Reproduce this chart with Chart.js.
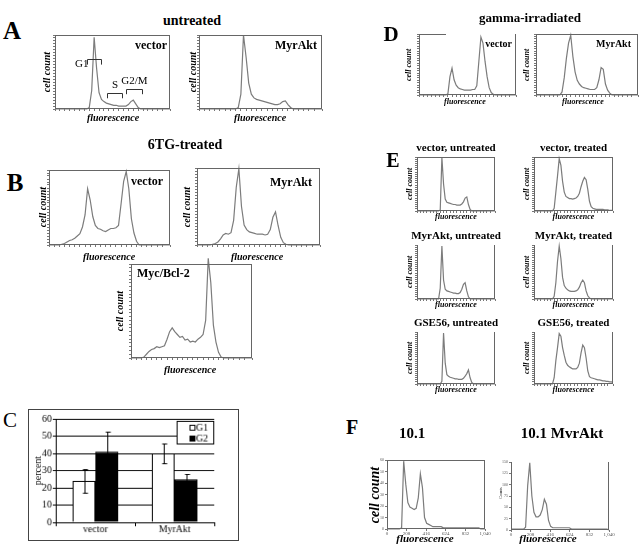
<!DOCTYPE html>
<html>
<head>
<meta charset="utf-8">
<script src="https://cdn.jsdelivr.net/npm/chart.js@4.4.1/dist/chart.umd.min.js"></script>
<style>
  body { margin: 0; background: #fff; }
  #page { position: relative; width: 644px; height: 547px; overflow: hidden;
          font-family: "Liberation Serif", "Times New Roman", serif; color: #000; }
  #page canvas { position: absolute; }
  .t { position: absolute; white-space: nowrap; line-height: 1; font-weight: bold; }
</style>
</head>
<body>
<div id="page"></div>
<script>
// histogram counts, 48 fluorescence bins, in % of panel height
const aVector   = [0,0,0,0,0,0,0,0,0,0, 0,0,0,0,2,25,97,55,22,13, 10,8,7,6,5,5,4,4,4,4, 6,10,12,7,2,0,0,0,0,0, 0,0,0,0,0,0,0,0];
const aMyrAkt   = [0,0,0,0,0,0,0,0,0,0, 0,0,0,0,0,2,20,100,70,35, 20,15,13,12,11,10,9,8,7,6, 6,7,10,11,6,2,0,0,0,0, 0,0,0,0,0,0,0,0];
const bVector   = [0,0,0,0,0,1,2,4,6,7, 9,12,15,24,40,75,60,38,26,22, 21,19,18,20,22,22,23,26,55,85, 98,75,35,16,5,0,0,0,0,0, 0,0,0,0,0,0,0,0];
const bMyrAkt   = [0,0,0,0,0,0,1,2,4,8, 13,15,14,16,32,75,99,50,26,20, 17,16,15,14,14,14,13,14,20,36, 43,25,10,3,1,0,0,0,0,0, 0,0,0,0,0,0,0,0];
const bMycBcl2  = [0,0,0,0,0,1,4,7,9,10, 12,11,12,13,20,28,32,28,25,22, 23,19,20,17,18,17,20,22,25,40, 106,80,35,17,6,1,0,0,0,0, 0,0,0,0,0,0,0,0];
const dVector   = [0,0,0,0,0,0,0,0,0,0, 0,0,0,0,2,30,44,25,16,12, 10,9,8,8,8,8,9,9,15,55, 95,85,55,30,12,4,1,0,0,0, 0,0,0,0,0,0,0,0];
const dMyrAkt   = [0,0,0,0,0,0,0,0,0,0, 0,0,5,28,60,85,98,63,38,24, 18,14,12,11,10,9,9,9,12,25, 45,42,18,8,3,0,0,0,0,0, 0,0,0,0,0,0,0,0];
const eVecUntr  = [0,0,0,0,0,0,0,0,0,0, 0,0,0,0,2,99,50,22,16,15, 14,13,12,12,11,11,11,13,17,24, 26,12,3,0,0,0,0,0,0,0, 0,0,0,0,0,0,0,0];
const eVecTr    = [0,0,0,0,0,0,0,0,0,0, 0,0,5,35,65,97,85,55,35,27, 25,23,23,22,23,24,27,33,45,55, 62,58,40,18,8,5,4,3,3,3, 3,3,2,2,2,1,1,1];
const eMyrUntr  = [0,0,0,0,0,0,0,0,0,0, 0,0,0,0,20,98,35,18,15,14, 13,12,11,11,10,10,12,18,27,30, 15,4,0,0,0,0,0,0,0,0, 0,0,0,0,0,0,0,0];
const eMyrTr    = [0,0,0,0,0,0,0,0,0,0, 0,0,5,30,70,98,75,40,25,20, 17,15,14,14,14,15,17,22,30,35, 30,15,6,2,0,0,0,0,0,0, 0,0,0,0,0,0,0,0];
const eGseUntr  = [0,0,0,0,0,0,0,0,0,0, 0,0,0,0,0,5,98,40,18,15, 13,12,11,10,10,9,9,9,11,15, 20,27,12,3,0,0,0,0,0,0, 0,0,0,0,0,0,0,0];
const eGseTr    = [0,0,0,0,0,0,0,0,0,0, 0,0,12,45,70,97,92,70,55,42, 36,33,31,29,29,29,32,40,60,75, 70,50,25,14,12,11,10,9,8,8, 7,6,6,5,5,4,4,3];
// panel F, raw counts over channels 0..1040
const f101      = [0,0,0,0,0,0,0,1,59,39, 23,19,18,17,18,27,48,36,10,5, 4,3,2,2,2,2,2,1,1,1, 1,1,1,1,1,1,1,1,1,1, 1,1,1,1,1,0,0,0];
const f101Myr   = [2,2,2,2,2,2,2,6,98,148, 75,39,29,29,33,45,68,57,21,8, 5,5,5,5,5,5,5,5,5,2, 2,2,2,2,2,2,2,2,2,2, 2,2,2,2,2,2,2,0];

// cell-cycle gates drawn on panel A vector (bins / % height)
const gateNames = ['G1', 'S', 'G2/M'];
const gateFrom  = [13, 21.3, 29.2];
const gateTo    = [18.8, 27.4, 35.5];
const gateLevel = [67, 21.5, 27];

// panel C
const phaseGroups = ['vector', 'MyrAkt'];
const g1Percent = [24, 40];
const g2Percent = [41, 25];
const g1Error = [7, 5.5];
const g2Error = [11.5, 3];

Chart.defaults.font.family = '"Liberation Serif", "Times New Roman", serif';
Chart.defaults.color = '#000';

const page = document.getElementById('page');

function text(str, x, y, size, style) {
  style = style || '';
  const el = document.createElement('div');
  el.className = 't';
  el.textContent = str;
  el.style.fontSize = size + 'px';
  let tf = 'translate(-50%,-50%)';
  if (style.includes('i')) el.style.fontStyle = 'italic';
  if (style.includes('n')) el.style.fontWeight = 'normal';
  if (style.includes('r')) tf = 'translate(-100%,-50%)';
  if (style.includes('l')) tf = 'translate(0,-50%)';
  if (style.includes('v')) tf += ' rotate(-90deg)';
  el.style.left = x + 'px';
  el.style.top = y + 'px';
  el.style.transform = tf;
  page.appendChild(el);
}

const frame = {
  id: 'frame',
  afterDatasetsDraw(chart, args, opts) {
    const { left, top, right, bottom } = chart.chartArea;
    const sides = opts.sides || 'tlrb';
    const ctx = chart.ctx;
    ctx.save();
    ctx.strokeStyle = opts.color || '#666';
    ctx.lineWidth = 1;
    ctx.beginPath();
    if (sides.includes('t')) { ctx.moveTo(left, top + 0.5); ctx.lineTo(right, top + 0.5); }
    if (sides.includes('b')) { ctx.moveTo(left, bottom - 0.5); ctx.lineTo(right, bottom - 0.5); }
    if (sides.includes('l')) { ctx.moveTo(left + 0.5, top); ctx.lineTo(left + 0.5, bottom); }
    if (sides.includes('r')) { ctx.moveTo(right - 0.5, top); ctx.lineTo(right - 0.5, bottom); }
    ctx.stroke();
    ctx.restore();
  }
};

const gates = {
  id: 'gates',
  afterDatasetsDraw(chart, args, opts) {
    if (!opts.show) return;
    const xs = chart.scales.x, ys = chart.scales.y, ctx = chart.ctx;
    ctx.save();
    ctx.strokeStyle = '#333';
    ctx.fillStyle = '#000';
    ctx.lineWidth = 1;
    ctx.font = '11px "Liberation Serif"';
    ctx.textBaseline = 'middle';
    gateNames.forEach((name, i) => {
      const x0 = Math.round(xs.getPixelForValue(gateFrom[i])) + 0.5;
      const x1 = Math.round(xs.getPixelForValue(gateTo[i])) + 0.5;
      const y = Math.round(ys.getPixelForValue(gateLevel[i])) + 0.5;
      const y2 = ys.getPixelForValue(gateLevel[i] - 7);
      ctx.beginPath();
      ctx.moveTo(x0, y2); ctx.lineTo(x0, y); ctx.lineTo(x1, y); ctx.lineTo(x1, y2);
      ctx.stroke();
      if (i === 0) {
        ctx.textAlign = 'right';
        ctx.fillText(name, x0 + 1, y + 5);
      } else {
        ctx.textAlign = 'center';
        ctx.fillText(name, (x0 + x1) / 2, y - 8);
      }
    });
    ctx.restore();
  }
};

function histogram(counts, box, opt) {
  opt = opt || {};
  const [left, top, right, bottom] = box;
  const pad = 12;
  const axL = opt.labels ? 10 : 3;
  const axB = opt.labels ? 8 : 3;
  const w = right - left + axL + 2 * pad;
  const h = bottom - top + axB + 2 * pad;
  const canvas = document.createElement('canvas');
  canvas.width = w; canvas.height = h;
  canvas.style.left = (left - axL - pad) + 'px';
  canvas.style.top = (top - pad) + 'px';
  canvas.style.width = w + 'px';
  canvas.style.height = h + 'px';
  page.appendChild(canvas);
  const xMax = opt.xMax || counts.length - 1;
  const binWidth = xMax / (counts.length - 1);
  new Chart(canvas, {
    type: 'line',
    data: {
      datasets: [{
        data: counts.map((c, i) => ({ x: i * binWidth, y: c })),
        borderColor: '#7c7c7c',
        borderWidth: 1.2,
        pointRadius: 0,
        tension: 0,
        clip: false
      }]
    },
    options: {
      responsive: false,
      animation: false,
      events: [],
      layout: { padding: pad },
      plugins: {
        legend: { display: false },
        tooltip: { enabled: false },
        frame: { sides: opt.sides },
        gates: { show: !!opt.gates }
      },
      scales: {
        x: {
          type: 'linear', min: 0, max: xMax,
          afterFit: s => { s.height = axB; },
          border: { display: false },
          grid: { drawOnChartArea: false, tickLength: 2, color: '#777' },
          ticks: { display: !!opt.labels, stepSize: opt.xStep || 2, autoSkip: false,
                   maxRotation: 0, padding: 0, font: { size: 5 }, color: '#555' }
        },
        y: {
          min: 0, max: opt.yMax || 100,
          afterFit: s => { s.width = axL; },
          border: { display: false },
          grid: { drawOnChartArea: false, tickLength: 2, color: '#777' },
          ticks: { display: !!opt.labels, stepSize: opt.yStep || 4, autoSkip: false,
                   padding: 1, font: { size: 4 }, color: '#555' }
        }
      }
    },
    plugins: [frame, gates]
  });
}

// ---- panel A
text('A', 12, 30, 25);
text('untreated', 192, 21, 14);
histogram(aVector, [55, 35, 170, 109], { gates: true });
histogram(aMyrAkt, [199, 35, 322, 109]);
text('vector', 167, 45, 12, 'r');
text('MyrAkt', 317, 45, 12, 'r');
text('cell count', 47, 72, 10, 'iv');
text('cell count', 193, 72, 10, 'iv');
text('fluorescence', 113, 118, 10, 'i');
text('fluorescence', 260, 118, 10, 'i');

// ---- panel B
text('B', 15, 182, 25);
text('6TG-treated', 185, 145, 14);
histogram(bVector, [49, 170, 170, 245]);
histogram(bMyrAkt, [197, 168, 320, 245]);
histogram(bMycBcl2, [131, 264, 252, 358]);
text('vector', 163, 181, 12, 'r');
text('MyrAkt', 312, 182, 12, 'r');
text('Myc/Bcl-2', 137, 273, 12, 'l');
text('cell count', 43, 207, 10, 'iv');
text('cell count', 187, 207, 10, 'iv');
text('cell count', 120, 311, 10, 'iv');
text('fluorescence', 109, 257, 10, 'i');
text('fluorescence', 257, 257, 10, 'i');
text('fluorescence', 190, 370, 10, 'i');

// ---- panel C
text('C', 10, 420, 21, 'n');
const errorBars = {
  id: 'errorBars',
  afterDatasetsDraw(chart) {
    const ctx = chart.ctx, ys = chart.scales.y;
    ctx.save();
    ctx.strokeStyle = '#000';
    ctx.lineWidth = 1;
    chart.data.datasets.forEach((ds, di) => {
      chart.getDatasetMeta(di).data.forEach((bar, i) => {
        const x = Math.round(bar.x) + 0.5;
        const hi = Math.round(ys.getPixelForValue(ds.data[i] + ds.errors[i])) + 0.5;
        const lo = Math.round(ys.getPixelForValue(ds.data[i] - ds.errors[i])) + 0.5;
        ctx.beginPath();
        ctx.moveTo(x, hi); ctx.lineTo(x, lo);
        ctx.moveTo(x - 2, hi); ctx.lineTo(x + 3, hi);
        ctx.moveTo(x - 2, lo); ctx.lineTo(x + 3, lo);
        ctx.stroke();
      });
    });
    ctx.restore();
  }
};
const boxLegend = {
  id: 'boxLegend',
  afterDraw(chart) {
    const ctx = chart.ctx, area = chart.chartArea;
    const w = 37, h = 23;
    const x = Math.round(area.right) - w - 0.5, y = Math.round(area.top) + 2.5;
    ctx.save();
    ctx.fillStyle = '#fff';
    ctx.fillRect(x, y, w, h);
    ctx.strokeStyle = '#000';
    ctx.lineWidth = 1;
    ctx.strokeRect(x, y, w, h);
    ctx.font = '10px "Liberation Serif"';
    ctx.textBaseline = 'middle';
    ctx.textAlign = 'left';
    chart.data.datasets.forEach((ds, i) => {
      const cy = y + 6 + i * 11;
      ctx.fillStyle = ds.backgroundColor;
      ctx.fillRect(x + 13, cy - 2, 5, 5);
      ctx.strokeRect(x + 13, cy - 2, 5, 5);
      ctx.fillStyle = '#000';
      ctx.fillText(ds.label, x + 19, cy + 1);
    });
    ctx.restore();
  }
};
const cCanvas = document.createElement('canvas');
cCanvas.width = 211; cCanvas.height = 132;
cCanvas.style.left = '28px'; cCanvas.style.top = '409px';
cCanvas.style.width = '211px'; cCanvas.style.height = '132px';
cCanvas.style.border = '1px solid #444';
page.appendChild(cCanvas);
new Chart(cCanvas, {
  type: 'bar',
  data: {
    labels: phaseGroups,
    datasets: [
      { label: 'G1', data: g1Percent, errors: g1Error, backgroundColor: '#fff',
        borderColor: '#000', borderWidth: 1 },
      { label: 'G2', data: g2Percent, errors: g2Error, backgroundColor: '#000',
        borderColor: '#000', borderWidth: 1 }
    ]
  },
  options: {
    responsive: false,
    animation: false,
    events: [],
    layout: { padding: { left: 0, top: 9, right: 24, bottom: 0 } },
    datasets: { bar: { categoryPercentage: 0.575, barPercentage: 1 } },
    plugins: { legend: { display: false }, tooltip: { enabled: false } },
    scales: {
      x: {
        afterFit: s => { s.height = 18; },
        border: { display: true, color: '#000' },
        grid: { drawOnChartArea: false, offset: true, tickLength: 4, color: '#000' },
        ticks: { padding: -3, font: { size: 10 } }
      },
      y: {
        min: 0, max: 60,
        afterFit: s => { s.width = 27; },
        border: { display: true, color: '#000' },
        grid: { color: '#000', tickLength: 3 },
        ticks: { stepSize: 10, padding: 1, font: { size: 10 } },
        title: { display: true, text: 'percent', font: { size: 10 }, padding: { top: 3, bottom: 0 } }
      }
    }
  },
  plugins: [errorBars, boxLegend]
});

// ---- panel D
text('D', 391, 34, 21);
text('gamma-irradiated', 530, 17, 13);
histogram(dVector, [419, 34, 516, 95], { sides: 'lrb' });
histogram(dMyrAkt, [536, 34, 638, 95]);
text('vector', 512, 44, 10, 'r');
text('MyrAkt', 631, 44, 10, 'r');
text('cell count', 409, 65, 8, 'iv');
text('cell count', 527, 65, 8, 'iv');
text('fluorescence', 465, 102, 8, 'i');
text('fluorescence', 583, 102, 8, 'i');

// ---- panel E
text('E', 393, 160, 20);
const eCols = [[417, 495], [534, 613]];
const eRows = [[157, 211], [245, 299], [332, 384]];
const eTitles = [['vector, untreated', 'vector, treated'],
                 ['MyrAkt, untreated', 'MyrAkt, treated'],
                 ['GSE56, untreated', 'GSE56, treated']];
const eData = [[eVecUntr, eVecTr], [eMyrUntr, eMyrTr], [eGseUntr, eGseTr]];
eRows.forEach((row, r) => {
  eCols.forEach((col, c) => {
    histogram(eData[r][c], [col[0], row[0], col[1], row[1]], { sides: r === 0 ? 'tlrb' : 'lrb' });
    const cx = (col[0] + col[1]) / 2;
    text(eTitles[r][c], cx, row[0] - 10, 11);
    text('fluorescence', cx, row[1] + 6, 8, 'i');
    text('cell count', col[0] - 7, (row[0] + row[1]) / 2, 8, 'iv');
  });
});

// ---- panel F
text('F', 352, 427, 20);
text('10.1', 412, 433, 15);
text('10.1 MvrAkt', 562, 433, 15);
histogram(f101, [387, 460, 485, 529], { labels: true, xMax: 1040, xStep: 200, yMax: 60, yStep: 10 });
histogram(f101Myr, [511, 462, 609, 530], { labels: true, xMax: 1040, xStep: 200, yMax: 150, yStep: 25, sides: 'lrb' });
text('cell count', 375, 495, 14, 'iv');
text('Counts', 501, 493, 4, 'nv');
text('fluorescence', 425, 538, 11, 'i');
text('fluorescence', 548, 538, 11, 'i');
// D vector box: scanned top rule only reaches part way
(function () {
  const rule = document.createElement('div');
  rule.style.cssText = 'position:absolute;left:419px;top:34px;width:27px;height:1px;background:#666';
  page.appendChild(rule);
})();
</script>
</body>
</html>
